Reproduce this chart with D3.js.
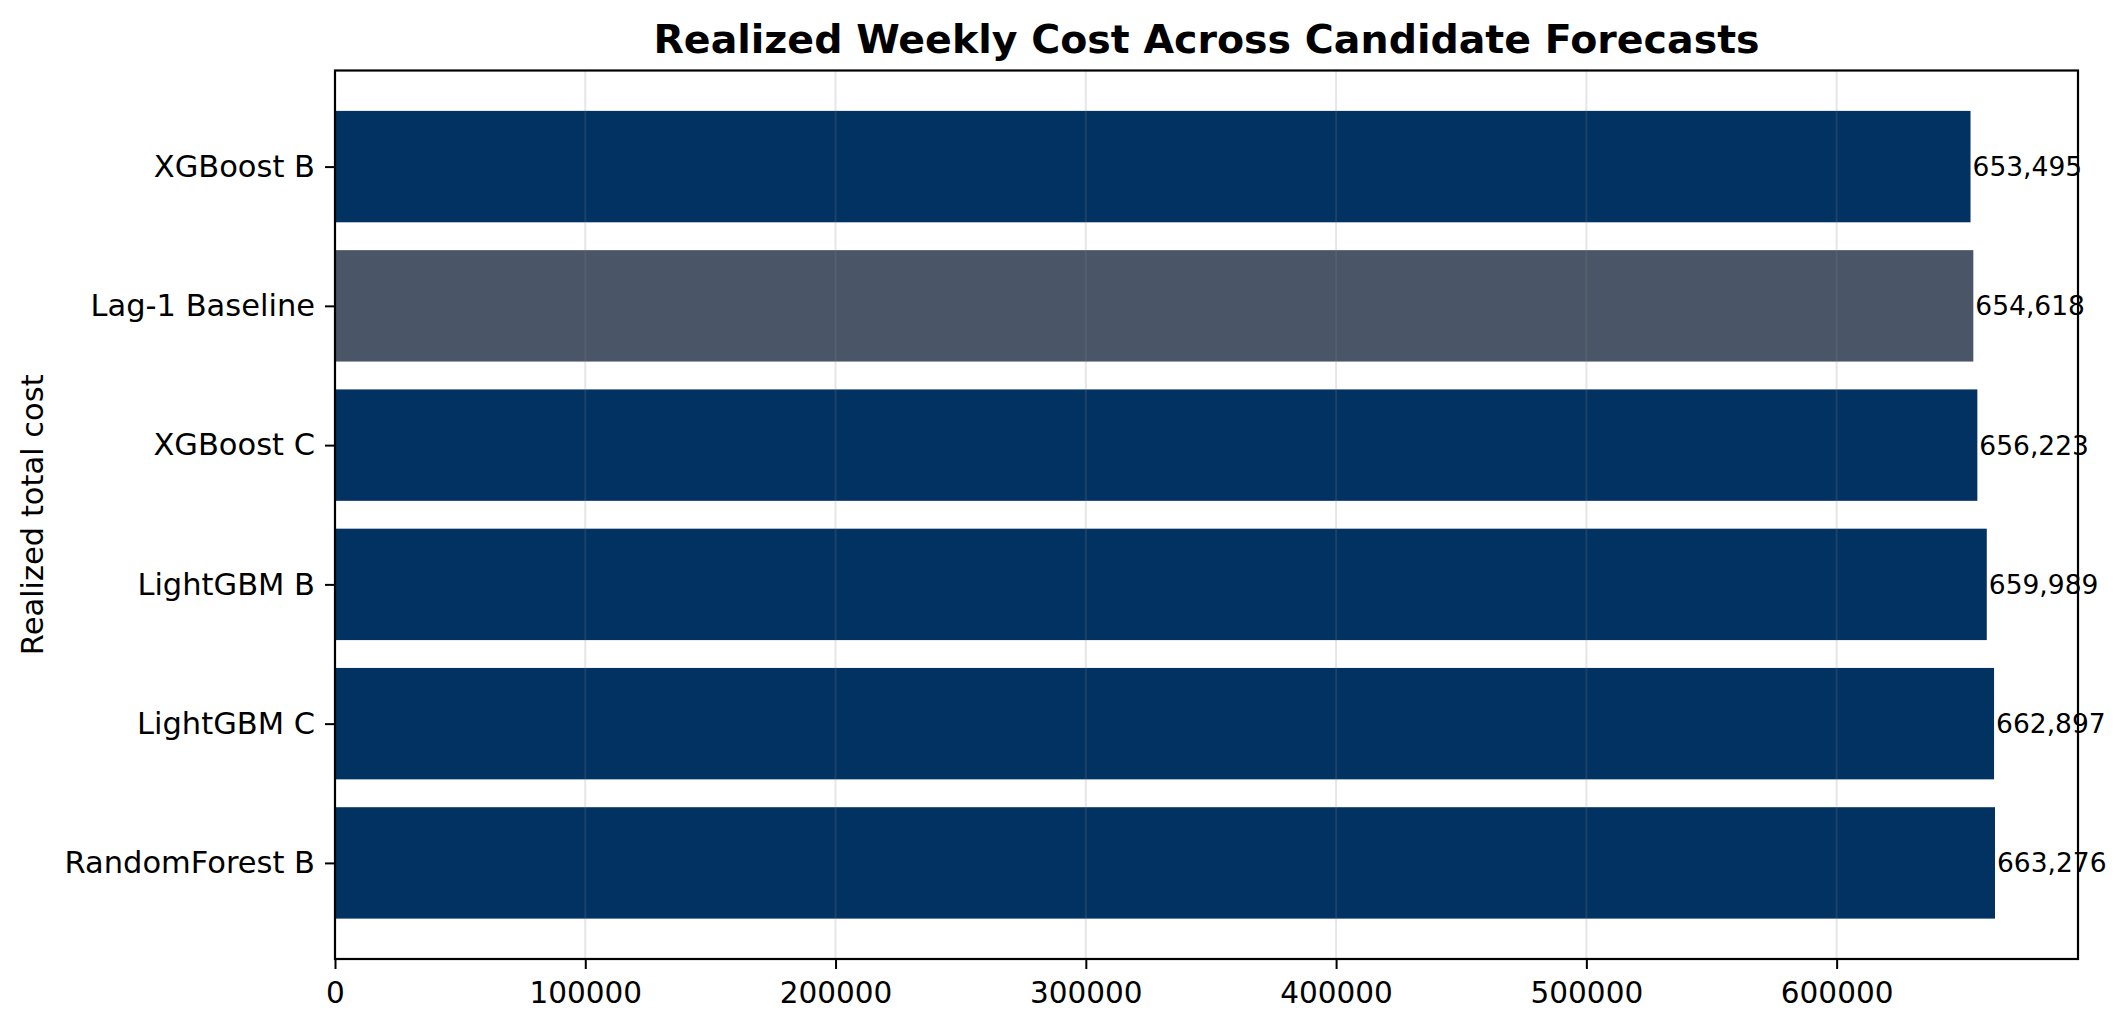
<!DOCTYPE html>
<html>
<head>
<meta charset="utf-8">
<script src="https://cdn.jsdelivr.net/npm/d3@7"></script>
<style>
  html, body { margin: 0; padding: 0; background: #fff; }
  svg { display: block; font-family: "DejaVu Sans", sans-serif; }
</style>
</head>
<body>
<svg width="2128" height="1032"></svg>
<script>
// data, top to bottom as drawn
var models = ["XGBoost B", "Lag-1 Baseline", "XGBoost C", "LightGBM B", "LightGBM C", "RandomForest B"];
var costs = [653495, 654618, 656223, 659989, 662897, 663276];
var isBaseline = [false, true, false, false, false, false];
var xTicks = [0, 100000, 200000, 300000, 400000, 500000, 600000];

var svg = d3.select("svg"),
    plotL = 335, plotR = 2078, plotT = 70.5, plotB = 959;

var x = d3.scaleLinear()
  .domain([0, d3.max(costs) * 1.05])
  .range([plotL, plotR]);

// matplotlib-like limits: bars of height 0.8 at 0..5, 5% margin
var y = d3.scaleLinear()
  .domain([-0.69, models.length - 1 + 0.69])
  .range([plotT, plotB]);

var barH = y(0.8) - y(0);

svg.selectAll("rect.bar")
  .data(costs)
  .enter()
  .append("rect")
  .attr("class", "bar")
  .attr("x", x(0))
  .attr("y", function(d, i) { return y(i - 0.4); })
  .attr("width", function(d) { return x(d) - x(0); })
  .attr("height", barH)
  .style("fill", function(d, i) { return isBaseline[i] ? "#4a5568" : "#023262"; });

// vertical grid on top of bars
svg.selectAll("line.grid")
  .data(xTicks)
  .enter()
  .append("line")
  .attr("class", "grid")
  .attr("x1", function(d) { return x(d); })
  .attr("x2", function(d) { return x(d); })
  .attr("y1", plotT)
  .attr("y2", plotB)
  .style("stroke", "#808080")
  .style("stroke-opacity", 0.2)
  .style("stroke-width", 2);

// value labels
svg.selectAll("text.val")
  .data(costs)
  .enter()
  .append("text")
  .attr("class", "val")
  .attr("x", function(d) { return x(d) + 2; })
  .attr("y", function(d, i) { return y(i); })
  .attr("dy", "0.36em")
  .style("font-size", "26.5px")
  .text(function(d) { return d3.format(",")(d); });

// x axis
var xAxis = d3.axisBottom(x)
  .tickValues(xTicks)
  .tickFormat(d3.format("d"))
  .tickSize(10)
  .tickPadding(13);

var gx = svg.append("g")
  .attr("transform", "translate(0," + plotB + ")")
  .call(xAxis);
gx.select(".domain").remove();
gx.selectAll("line").style("stroke", "#000").style("stroke-width", 2);
gx.selectAll("text")
  .style("font-size", "29.5px")
  .style("font-family", "DejaVu Sans")
  .style("fill", "#000");

// y axis
var yAxis = d3.axisLeft(y)
  .tickValues(d3.range(models.length))
  .tickFormat(function(i) { return models[i]; })
  .tickSize(10)
  .tickPadding(10);

var gy = svg.append("g")
  .attr("transform", "translate(" + plotL + ",0)")
  .call(yAxis);
gy.select(".domain").remove();
gy.selectAll("line").style("stroke", "#000").style("stroke-width", 2);
gy.selectAll("text")
  .style("font-size", "30.5px")
  .style("font-family", "DejaVu Sans")
  .style("fill", "#000");

// frame
svg.append("rect")
  .attr("x", plotL)
  .attr("y", plotT)
  .attr("width", plotR - plotL)
  .attr("height", plotB - plotT)
  .style("fill", "none")
  .style("stroke", "#000")
  .style("stroke-width", 2.2);

// title
svg.append("text")
  .attr("x", (plotL + plotR) / 2)
  .attr("y", 52.5)
  .attr("text-anchor", "middle")
  .style("font-size", "39.5px")
  .style("font-weight", "bold")
  .text("Realized Weekly Cost Across Candidate Forecasts");

// y label
svg.append("text")
  .attr("transform", "translate(32," + (plotT + plotB) / 2 + ") rotate(-90)")
  .attr("text-anchor", "middle")
  .attr("dy", "0.36em")
  .style("font-size", "30.5px")
  .text("Realized total cost");
</script>
</body>
</html>
